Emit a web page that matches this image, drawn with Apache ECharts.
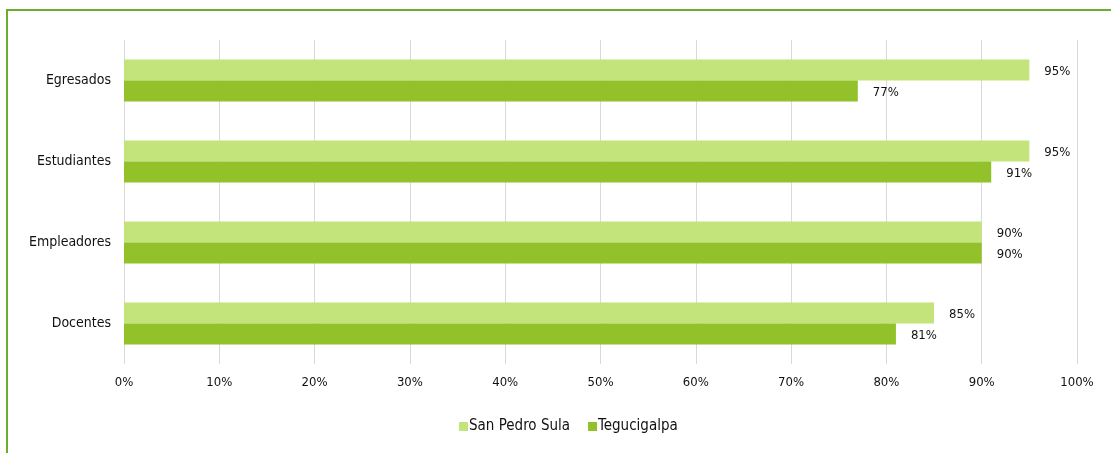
<!DOCTYPE html>
<html>
<head>
<meta charset="utf-8">
<script src="https://cdn.jsdelivr.net/npm/echarts@6/dist/echarts.min.js"></script>
<style>
  html, body { margin: 0; padding: 0; background: #fff; }
  .frame {
    position: absolute; left: 6px; top: 9px; width: 1120px; height: 460px;
    border-top: 2px solid #6aad2f; border-left: 2px solid #6aad2f;
  }
  #chart { position: absolute; left: 0; top: 0; width: 1111px; height: 453px; }
</style>
</head>
<body>
<div class="frame"></div>
<div id="chart"></div>
<script>
// categories bottom -> top
const categories = ['Docentes', 'Empleadores', 'Estudiantes', 'Egresados']
const sanPedroSula = [85, 90, 95, 95]
const tegucigalpa = [81, 90, 91, 77]
const xTicks = [0, 10, 20, 30, 40, 50, 60, 70, 80, 90, 100]

const font = 'DejaVu Sans Condensed'
const chart = echarts.init(document.getElementById('chart'))

const labelStyle = {
  show: true,
  position: 'right',
  distance: 15,
  offset: [0, 2],
  formatter: p => p.value + '%',
  color: '#111',
  fontFamily: font,
  fontSize: 13
}

chart.setOption({
  animation: false,
  textStyle: { fontFamily: font },
  legend: {
    data: ['San Pedro Sula', 'Tegucigalpa'],
    bottom: 14,
    left: 454,
    itemWidth: 9,
    itemHeight: 9,
    itemGap: 18,
    icon: 'rect',
    textStyle: { color: '#111', fontFamily: font, fontSize: 15, padding: [0, 0, 0, -4] }
  },
  grid: { left: 124, right: 34, top: 40, bottom: 89 },
  xAxis: {
    type: 'value',
    min: xTicks[0],
    max: xTicks[xTicks.length - 1],
    interval: 10,
    axisLine: { show: false },
    axisTick: { show: false },
    axisLabel: { formatter: '{value}%', color: '#111', fontFamily: font, fontSize: 13, margin: 12 },
    splitLine: { lineStyle: { color: '#d9d9d9', width: 1 } }
  },
  yAxis: {
    type: 'category',
    data: categories,
    axisLine: { show: false },
    axisTick: { show: false },
    axisLabel: { color: '#111', fontFamily: font, fontSize: 14, margin: 13 }
  },
  series: [
    {
      name: 'San Pedro Sula',
      type: 'bar',
      data: sanPedroSula,
      barWidth: 21,
      barGap: '0%',
      itemStyle: { color: '#c2e47b' },
      label: labelStyle
    },
    {
      name: 'Tegucigalpa',
      type: 'bar',
      data: tegucigalpa,
      barWidth: 21,
      barGap: '0%',
      itemStyle: { color: '#92c12a' },
      label: labelStyle
    }
  ]
})
</script>
</body>
</html>
